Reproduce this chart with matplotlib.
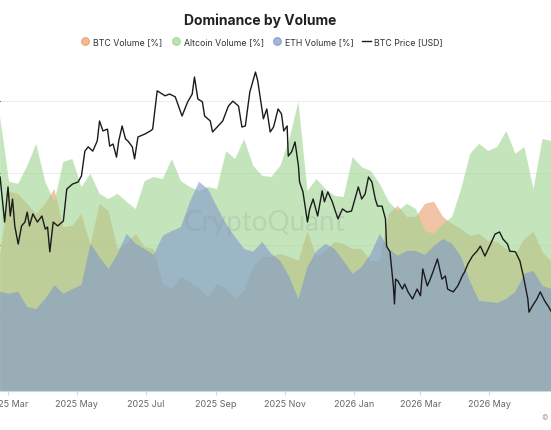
import matplotlib
matplotlib.use("Agg")
import matplotlib.pyplot as plt
import matplotlib.dates as mdates
from matplotlib.lines import Line2D
import pandas as pd

# volume dominance, sampled every 8 days (percent)
vol_dates = pd.date_range("2025-02-22", periods=62, freq="8D")

btc_vol = [34.3, 49.8, 49.3, 46.8, 44.3, 46.8, 50.5, 41.0, 41.3, 44.3,
           36.5, 46.8, 45.0, 35.5, 36.8, 39.3, 36.0, 35.5, 26.8, 25.5,
           28.5, 27.3, 25.5, 23.5, 26.8, 25.5, 23.0, 25.0, 31.0, 33.5,
           33.5, 34.3, 33.5, 32.5, 40.0, 33.5, 35.0, 37.3, 36.8, 35.5,
           35.5, 32.5, 32.5, 44.3, 46.3, 43.5, 43.5, 46.8, 47.3, 43.5,
           41.8, 40.5, 38.8, 39.3, 37.5, 37.3, 35.5, 34.0, 38.0, 39.8,
           34.8, 32.3]

alt_vol = [68.5, 52.3, 51.8, 56.3, 61.8, 52.3, 47.3, 57.3, 58.0, 51.0,
           54.3, 49.3, 48.0, 49.3, 47.3, 45.5, 52.5, 53.5, 53.0, 58.0,
           52.5, 51.0, 50.0, 51.0, 50.5, 60.0, 58.0, 63.0, 56.3, 53.8,
           53.5, 56.3, 63.0, 72.3, 50.0, 53.0, 50.5, 48.8, 48.5, 58.5,
           56.0, 55.0, 51.8, 47.3, 45.0, 46.8, 45.5, 40.0, 39.3, 41.8,
           43.5, 50.5, 59.3, 61.8, 60.0, 61.0, 65.0, 59.3, 61.0, 50.5,
           63.0, 62.5]

eth_vol = [24.8, 24.3, 24.8, 21.0, 20.5, 23.0, 26.5, 24.3, 25.5, 26.5,
           36.8, 33.5, 30.5, 34.3, 39.3, 36.8, 35.5, 34.0, 38.8, 40.0,
           41.0, 47.3, 52.3, 50.5, 46.0, 41.8, 38.5, 35.5, 34.8, 37.3,
           34.3, 32.5, 28.5, 23.0, 31.0, 35.0, 36.8, 35.5, 32.5, 29.3,
           31.0, 34.3, 39.3, 35.5, 33.8, 35.0, 35.0, 34.0, 36.3, 38.0,
           36.8, 33.5, 27.3, 22.5, 22.3, 22.0, 23.0, 24.8, 29.3, 30.0,
           26.3, 25.5]

# btc price, days counted from 2025-03-01, price in thousand USD
price_days = [-7, -3, 0, 2, 4, 6, 9, 12, 15, 17,
              19, 22, 26, 30, 33, 35, 37, 40, 44, 49,
              52, 57, 62, 65, 68, 71, 75, 79, 81, 84,
              88, 90, 93, 96, 98, 101, 104, 106, 110, 112,
              115, 121, 126, 128, 132, 135, 139, 143, 148, 154,
              159, 163, 165, 168, 172, 174, 179, 181, 186, 190,
              195, 199, 204, 207, 210, 214, 219, 221, 226, 229,
              232, 235, 239, 242, 244, 247, 248, 251, 254, 257,
              258, 261, 265, 267, 270, 274, 278, 280, 283, 287,
              289, 292, 296, 300, 304, 307, 310, 313, 316, 319,
              322, 325, 327, 331, 334, 335, 338, 341, 342, 343,
              345, 349, 351, 354, 358, 362, 365, 367, 371, 373,
              376, 380, 384, 387, 389, 394, 398, 402, 404, 407,
              411, 415, 418, 422, 427, 431, 435, 438, 442, 444,
              449, 453, 456, 460, 461, 464, 468, 471, 475, 478,
              481]

btc_price_k = [96.1, 83.4, 93.3, 85.1, 89.9, 82.3, 77.2, 82.3, 83.4, 86.2,
               82.3, 85.7, 83.4, 85.1, 81.4, 82.0, 75.0, 83.4, 82.3, 83.7,
               92.7, 94.1, 94.7, 96.4, 103.4, 104.6, 103.4, 106.3, 111.9, 109.1,
               109.6, 104.8, 105.4, 101.7, 106.3, 110.5, 106.8, 106.3, 104.6, 101.2,
               107.4, 108.2, 109.1, 109.6, 120.4, 119.8, 119.0, 119.5, 118.7, 113.3,
               117.3, 119.5, 124.3, 118.1, 117.3, 113.3, 111.9, 108.8, 110.5, 111.9,
               116.1, 117.5, 116.1, 110.2, 110.5, 120.1, 125.7, 123.2, 112.5, 115.3,
               108.8, 110.2, 115.3, 113.9, 109.1, 110.5, 102.0, 103.2, 106.0, 99.2,
               94.7, 91.9, 83.4, 87.1, 89.9, 85.1, 92.2, 89.1, 91.9, 89.1,
               87.1, 84.3, 87.1, 86.2, 86.5, 89.9, 93.3, 89.9, 91.3, 96.1,
               94.7, 89.9, 87.9, 87.9, 84.3, 76.6, 75.0, 65.4, 60.3, 67.3,
               66.8, 64.5, 65.9, 63.7, 61.7, 64.5, 62.6, 70.2, 65.4, 66.8,
               69.3, 73.0, 67.3, 68.2, 64.5, 63.7, 65.4, 68.2, 69.3, 71.6,
               73.8, 75.2, 76.6, 73.8, 77.2, 80.0, 80.6, 78.6, 77.2, 75.2,
               75.0, 72.4, 68.2, 61.7, 58.0, 59.7, 61.7, 63.7, 61.1, 59.7,
               58.0]

price_dates = pd.Timestamp("2025-03-01") + pd.to_timedelta(price_days, unit="D")

c_btc = "#e99d6c"
c_alt = "#9dd58f"
c_eth = "#8197cd"
a_fill = 0.6

plt.rcParams["font.family"] = ["Inter", "DejaVu Sans"]

fig = plt.figure(figsize=(5.51, 4.31), dpi=100)
ax = fig.add_axes([0.0, 0.0905, 1.0, 0.7703])

# areas overlap, not stacked
ax.fill_between(vol_dates, 0, btc_vol, color=c_btc, alpha=a_fill, lw=0)
ax.fill_between(vol_dates, 0, alt_vol, color=c_alt, alpha=a_fill, lw=0)
ax.fill_between(vol_dates, 0, eth_vol, color=c_eth, alpha=a_fill, lw=0)

ax.set_ylim(0, 83)
ax.set_yticks([18.5, 36.5, 54.5, 72.5])
ax.yaxis.grid(True, color="#ededed", lw=0.7)
ax.set_axisbelow(True)
ax.tick_params(axis="y", left=False, labelleft=False)

ax.set_xlim(pd.Timestamp("2025-02-21 22:00"), pd.Timestamp("2026-06-24 12:00"))
ax.xaxis.set_major_locator(mdates.MonthLocator(bymonth=[1, 3, 5, 7, 9, 11]))
ax.xaxis.set_major_formatter(mdates.DateFormatter("%Y %b"))
ax.tick_params(axis="x", length=3, color="#ccd6eb", labelcolor="#666666",
               labelsize=6.5, pad=3)

for s in ["top", "left", "right"]:
    ax.spines[s].set_visible(False)
ax.spines["bottom"].set_color("#ccd6eb")
ax.spines["bottom"].set_linewidth(0.8)

# price on its own hidden scale
ax2 = ax.twinx()
ax2.plot(price_dates, btc_price_k, color="#1b1b1b", lw=1.0)
ax2.set_ylim(35.76, 129.38)
ax2.set_yticks([])
for s in ax2.spines.values():
    s.set_visible(False)

ax.text(0.48, 0.51, "CryptoQuant", transform=ax.transAxes, ha="center", va="center",
        fontsize=20, color="#8c8c8c", alpha=0.2, family=["Lato", "DejaVu Sans"])

fig.text(0.472, 1 - 21 / 431, "Dominance by Volume", ha="center", va="center",
         fontsize=10, fontweight="bold", color="#222222")

handles = [
    Line2D([], [], marker="o", ls="none", markersize=5.5, color=c_btc, alpha=0.7),
    Line2D([], [], marker="o", ls="none", markersize=5.5, color=c_alt, alpha=0.7),
    Line2D([], [], marker="o", ls="none", markersize=5.5, color=c_eth, alpha=0.7),
    Line2D([], [], color="#1b1b1b", lw=1.0),
]
labels = ["BTC Volume [%]", "Altcoin Volume [%]", "ETH Volume [%]", "BTC Price [USD]"]
leg = fig.legend(handles, labels, loc="center", bbox_to_anchor=(262 / 551, 1 - 43 / 431),
                 ncol=4, frameon=False, fontsize=6.3, handlelength=1.0,
                 handletextpad=0.4, columnspacing=1.0)
for t in leg.get_texts():
    t.set_color("#333333")

fig.text(0.995, 1 - 418 / 431, "©", ha="right", va="center", fontsize=5, color="#999999")

fig.savefig("out.png", dpi=100)
